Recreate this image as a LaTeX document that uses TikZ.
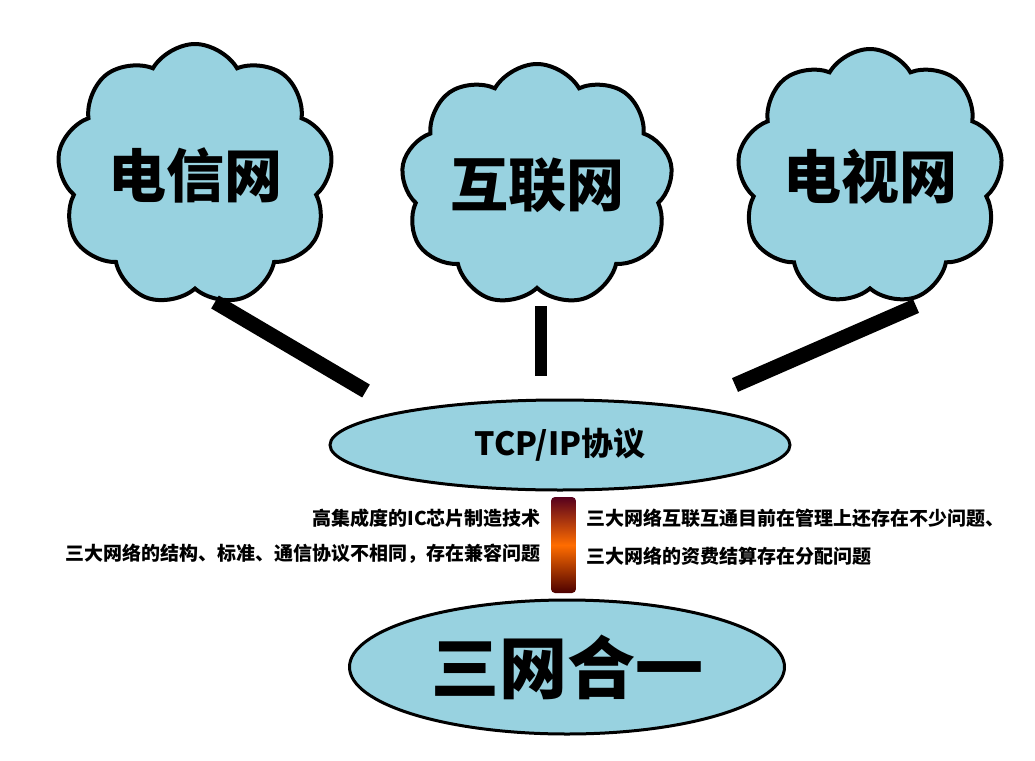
\documentclass[tikz,border=0pt]{standalone}
\usepackage{fontspec}
\setmainfont{Noto Sans CJK SC}
\usetikzlibrary{shapes.symbols,shapes.geometric}
\definecolor{netblue}{RGB}{152,210,224}
\tikzset{
  net/.style={cloud, cloud puffs=9, cloud puff arc=120, cloud ignores aspect, draw=black, line width=4pt,
    fill=netblue, inner sep=0pt, font=\fontsize{58}{58}\selectfont\bfseries},
  disc/.style={ellipse, draw=black, line width=3pt, fill=netblue, inner sep=0pt},
  link/.style={line width=15pt},
  note/.style={font=\fontsize{19}{19}\selectfont\bfseries, inner sep=0pt}
}
\begin{document}
\begin{tikzpicture}[x=1pt,y=-1pt]
  \useasboundingbox (0,0) rectangle (1035,760);
  \draw
    (195,175) node[net, minimum width=276pt, minimum height=262pt] (tel){电信网}
    (537,185) node[net, minimum width=272pt, minimum height=242pt, shape border rotate=15] (web){互联网}
    (870,177) node[net, minimum width=266pt, minimum height=256pt, shape border rotate=-10] (tv){电视网}
    (560,445) node[disc, minimum width=460pt, minimum height=90pt,
      font=\fontsize{32}{32}\selectfont\bfseries] (tcp){TCP/IP协议}
    (567,667) node[disc, minimum width=435pt, minimum height=134pt,
      font=\fontsize{68}{68}\selectfont\bfseries] (one){三网合一};
  \node[rounded corners=4pt, minimum width=25pt, minimum height=96pt, inner sep=0pt,
    top color=black!55!purple, bottom color=black!70!red, middle color=orange!85!red]
    (bar) at (563.5,545) {};
  \node[note, anchor=east] (n1) at (541,518) {高集成度的IC芯片制造技术};
  \node[note, anchor=east] (n2) at (541,554) {三大网络的结构、标准、通信协议不相同，存在兼容问题};
  \node[note, anchor=west] (n3) at (586,518) {三大网络互联互通目前在管理上还存在不少问题、};
  \node[note, anchor=west] (n4) at (586,556) {三大网络的资费结算存在分配问题};
  \coordinate (a1) at (215,302);
  \coordinate (b1) at (366,391);
  \coordinate (a2) at (541,306);
  \coordinate (b2) at (541,376);
  \coordinate (a3) at (916,306);
  \coordinate (b3) at (735,385);
  \begin{scope}[link]
    \draw (a1) to (b1);
    \draw[line width=12pt] (a2) to (b2);
    \draw (a3) to (b3);
  \end{scope}
\end{tikzpicture}
\end{document}
